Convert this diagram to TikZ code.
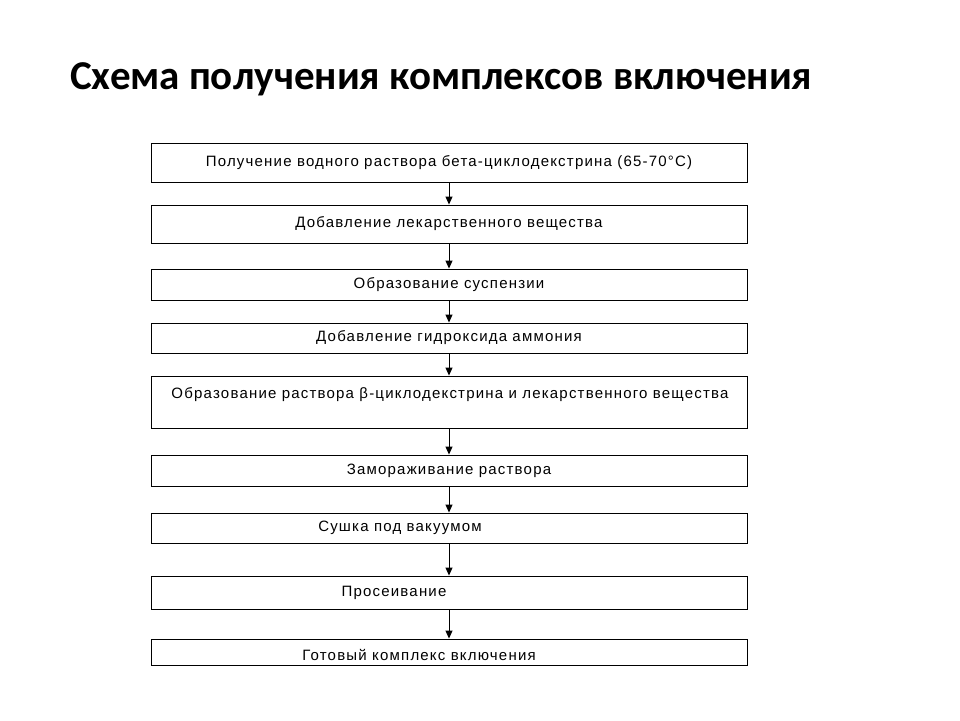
\documentclass[tikz,border=0pt]{standalone}
\usepackage{fontspec}
\setmainfont{Liberation Sans}[LetterSpace=8]
\newfontfamily\titlefont{Carlito}
\usetikzlibrary{arrows.meta}

\tikzset{
  stepbox/.style={draw=black, line width=0.9pt, minimum width=596pt, inner sep=0pt, font=\fontsize{15}{17}\selectfont},
  steptext/.style={inner sep=0pt, font=\fontsize{15}{17}\selectfont},
  flow/.style={-{Triangle[length=8pt,width=7pt]}, line width=0.9pt}
}

\begin{document}
\begin{tikzpicture}[x=1pt,y=-1pt]
      \useasboundingbox (0,0) rectangle (960,720);
      %%%%%%%%%%%%%%%%%%%%%%%%%%%%%%%%%%%%%%%%%%%%%%%
      \node[anchor=base west, inner sep=0pt, font=\titlefont\bfseries\fontsize{41}{44}\selectfont] at (70,89) (title) {Схема получения комплексов включения};
      %%%%%%%%%%%%%%%%%%%%%%%%%%%%%%%%%%%%%%%%%%%%%%%
      \node[stepbox, minimum height=39pt] at (449,162.5) (b1) {Получение водного  раствора бета-циклодекстрина  (65-70°C)};
      \node[stepbox, minimum height=38pt] at (449,224)   (b2) {Добавление лекарственного вещества};
      \node[stepbox, minimum height=31pt] at (449,284.5) (b3) {Образование суспензии};
      \node[stepbox, minimum height=30pt] at (449,338)   (b4) {Добавление гидроксида аммония};
      \node[stepbox, minimum height=52pt] at (449,402)   (b5) {};
      \node[stepbox, minimum height=31pt] at (449,470.5) (b6) {Замораживание раствора};
      \node[stepbox, minimum height=30pt] at (449,528)   (b7) {};
      \node[stepbox, minimum height=33pt] at (449,592.5) (b8) {};
      \node[stepbox, minimum height=26pt] at (449,652)   (b9) {};
      %%%%%%%%%%%%%%%%%%%%%%%%%%%%%%%%%%%%%%%%%%%%%%%
      \node[steptext] at (450,395) (t5) {Образование раствора β-циклодекстрина и лекарственного вещества};
      \node[steptext] at (400,528) (t7) {Сушка под вакуумом};
      \node[steptext] at (394,593) (t8) {Просеивание};
      \node[steptext] at (419,655) (t9) {Готовый комплекс включения};
      %%%%%%%%%%%%%%%%%%%%%%%%%%%%%%%%%%%%%%%%%%%%%%%
      \draw[flow] (b1) -- (b2);
      \draw[flow] (b2) -- (b3);
      \draw[flow] (b3) -- (b4);
      \draw[flow] (b4) -- (b5);
      \draw[flow] (b5) -- (b6);
      \draw[flow] (b6) -- (b7);
      \draw[flow] (b7) -- (b8);
      \draw[flow] (b8) -- (b9);
\end{tikzpicture}
\end{document}
